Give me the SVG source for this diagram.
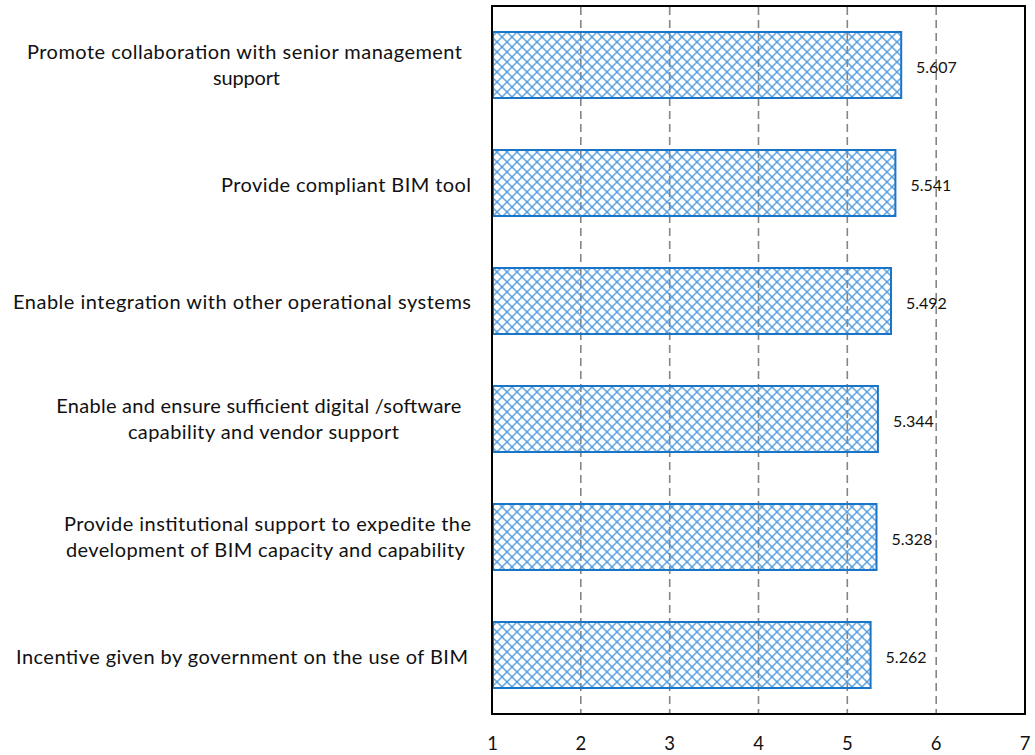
<svg xmlns="http://www.w3.org/2000/svg" width="1035" height="755" viewBox="0 0 1035 755">
  <defs>
    <!-- diagonal cross-hatch used to fill the bars -->
    <pattern id="hatch" patternUnits="userSpaceOnUse" width="7.07" height="7.07" patternTransform="translate(492,32) rotate(45)">
      <path d="M0,3.535 H7.07 M3.535,0 V7.07" stroke="#4594da" stroke-width="1.3" fill="none"/>
    </pattern>
    <style>
      .grid { stroke: #858585; stroke-width: 1.6; stroke-dasharray: 8 5; fill: none; }
      .bar { fill: url(#hatch); stroke: #1a74c8; stroke-width: 2; }
      .cat { font-family: Lato, "Open Sans", "Liberation Sans", sans-serif; font-size: 20px; fill: #111; text-anchor: middle; }
      .val { font-family: Lato, "Open Sans", "Liberation Sans", sans-serif; font-size: 16px; fill: #111; }
      .tick { font-family: Lato, "Open Sans", "Liberation Sans", sans-serif; font-size: 18.5px; fill: #111; text-anchor: middle; }
      .frame { fill: none; stroke: #000; stroke-width: 2; }
    </style>
  </defs>

  <rect width="1035" height="755" fill="#fff"/>

  <!-- vertical gridlines at 2..6 -->
  <g id="gridlines">
    <line class="grid" x1="580.8" y1="7" x2="580.8" y2="713"/>
    <line class="grid" x1="669.7" y1="7" x2="669.7" y2="713"/>
    <line class="grid" x1="758.5" y1="7" x2="758.5" y2="713"/>
    <line class="grid" x1="847.3" y1="7" x2="847.3" y2="713"/>
    <line class="grid" x1="936.2" y1="7" x2="936.2" y2="713"/>
  </g>

  <!-- bars: x = 492 + (value-1) * 88.833 -->
  <g id="bar-1"><rect class="bar" x="493" y="32" width="408.2" height="66"/><text class="val" x="916" y="73.3">5.607</text></g>
  <g id="bar-2"><rect class="bar" x="493" y="150" width="402.4" height="66"/><text class="val" x="910.4" y="191.3">5.541</text></g>
  <g id="bar-3"><rect class="bar" x="493" y="268" width="398" height="66"/><text class="val" x="906" y="309.3">5.492</text></g>
  <g id="bar-4"><rect class="bar" x="493" y="386" width="384.9" height="66"/><text class="val" x="892.9" y="427.3">5.344</text></g>
  <g id="bar-5"><rect class="bar" x="493" y="504" width="383.5" height="66"/><text class="val" x="891.5" y="545.3">5.328</text></g>
  <g id="bar-6"><rect class="bar" x="493" y="622" width="377.6" height="66"/><text class="val" x="885.6" y="663.3">5.262</text></g>

  <!-- category labels -->
  <g id="label-1">
    <text class="cat" x="244.5" y="59.3" textLength="435" lengthAdjust="spacing">Promote collaboration with senior management</text>
    <text class="cat" x="246.5" y="85" textLength="67" lengthAdjust="spacing">support</text>
  </g>
  <g id="label-2">
    <text class="cat" x="346" y="191.7" textLength="250" lengthAdjust="spacing">Provide compliant BIM tool</text>
  </g>
  <g id="label-3">
    <text class="cat" x="242" y="309.3" textLength="458" lengthAdjust="spacing">Enable integration with other operational systems</text>
  </g>
  <g id="label-4">
    <text class="cat" x="258.8" y="412.5" textLength="405" lengthAdjust="spacing">Enable and ensure sufficient digital /software</text>
    <text class="cat" x="263.4" y="439" textLength="271" lengthAdjust="spacing">capability and vendor support</text>
  </g>
  <g id="label-5">
    <text class="cat" x="267.5" y="530.7" textLength="407" lengthAdjust="spacing">Provide institutional support to expedite the</text>
    <text class="cat" x="265.4" y="556.7" textLength="399" lengthAdjust="spacing">development of BIM capacity and capability</text>
  </g>
  <g id="label-6">
    <text class="cat" x="242" y="663.5" textLength="452" lengthAdjust="spacing">Incentive given by government on the use of BIM</text>
  </g>

  <!-- plot frame -->
  <rect class="frame" x="492" y="6" width="533" height="708"/>

  <!-- value axis labels -->
  <g id="axis-labels">
    <text class="tick" x="492.5" y="750">1</text>
    <text class="tick" x="580.8" y="750">2</text>
    <text class="tick" x="669.7" y="750">3</text>
    <text class="tick" x="758.5" y="750">4</text>
    <text class="tick" x="847.3" y="750">5</text>
    <text class="tick" x="936.2" y="750">6</text>
    <text class="tick" x="1025" y="750">7</text>
  </g>
</svg>
